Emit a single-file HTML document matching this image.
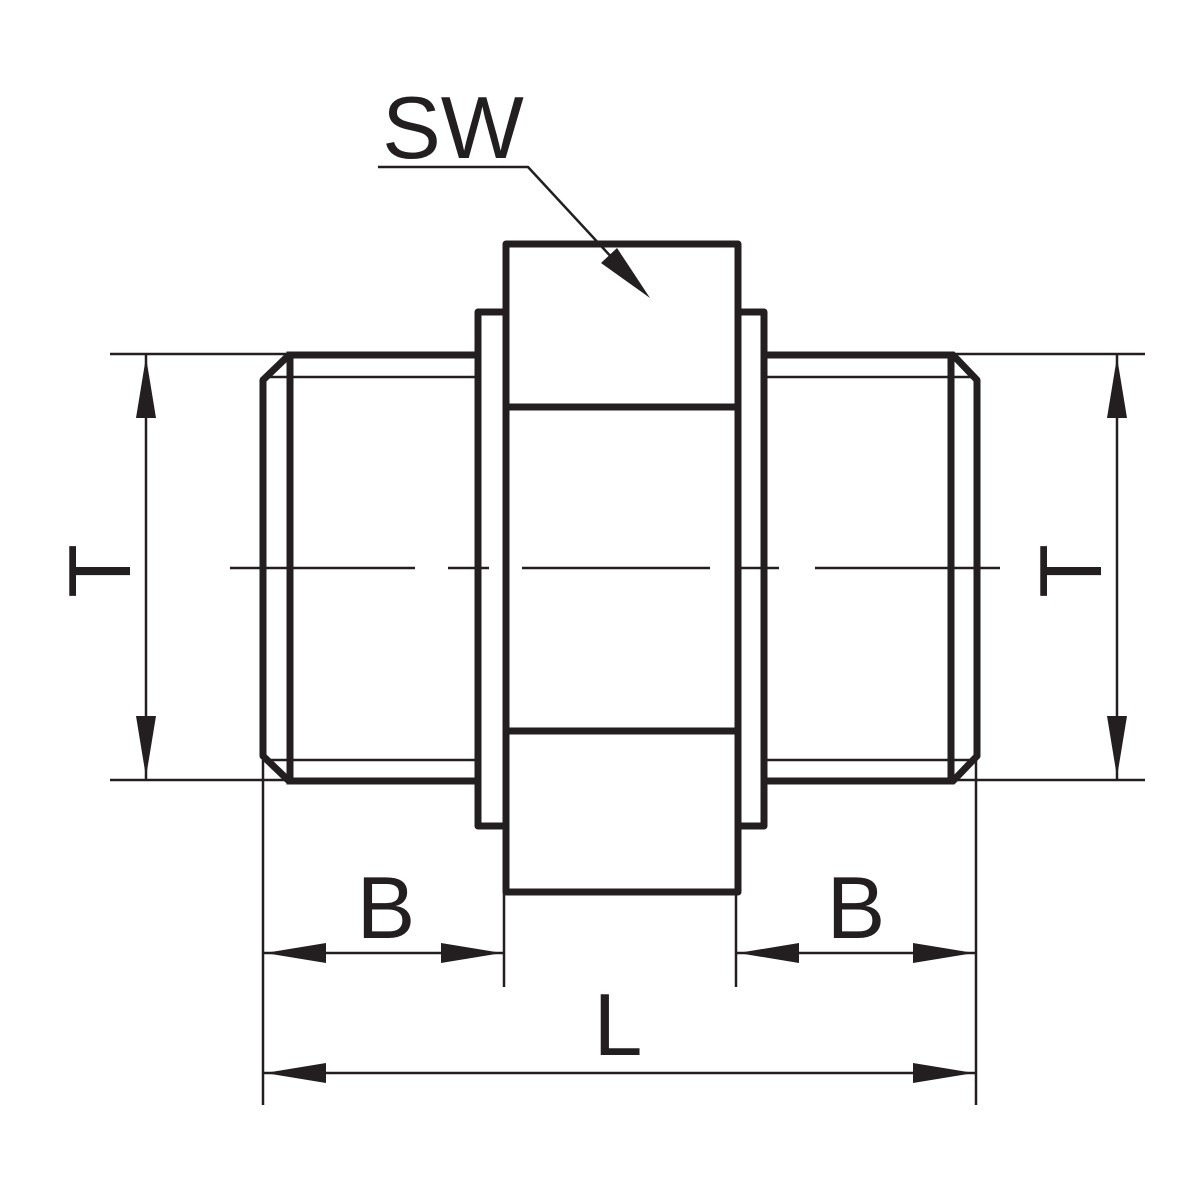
<!DOCTYPE html>
<html><head><meta charset="utf-8"><style>html,body{margin:0;padding:0;background:#fff}svg{display:block}</style></head>
<body>
<svg width="1200" height="1200" viewBox="0 0 1200 1200" xmlns="http://www.w3.org/2000/svg">
<g fill="none" stroke="#231f20" stroke-linecap="square" stroke-linejoin="round">
<!-- thick outlines -->
<g stroke-width="7">
<!-- hex body -->
<rect x="506" y="244" width="232" height="648"/>
<line x1="506" y1="407" x2="738" y2="407"/>
<line x1="506" y1="731" x2="738" y2="731"/>
<!-- left flange -->
<polyline points="503,312 478,312 478,826 503,826"/>
<!-- right flange -->
<polyline points="741,312 764,312 764,826 741,826"/>
<!-- left pipe -->
<polyline points="476,355 289,355 263,380 263,756 289,781 476,781"/>
<line x1="290" y1="355" x2="290" y2="781"/>
<!-- right pipe -->
<polyline points="767,355 953,355 977,380 977,756 953,781 767,781"/>
<line x1="951" y1="355" x2="951" y2="781"/>
</g>
<g stroke-width="2.5" stroke-linecap="butt">
<line x1="267" y1="377" x2="476" y2="377"/>
<line x1="267" y1="760" x2="476" y2="760"/>
<line x1="767" y1="377" x2="974" y2="377"/>
<line x1="767" y1="760" x2="974" y2="760"/>
<!-- centerline -->
<line x1="230" y1="568" x2="415" y2="568"/>
<line x1="448" y1="568" x2="489" y2="568"/>
<line x1="522" y1="568" x2="710" y2="568"/>
<line x1="741" y1="568" x2="779" y2="568"/>
<line x1="815" y1="568" x2="1000" y2="568"/>
<!-- T ext lines -->
<line x1="110" y1="354" x2="290" y2="354"/>
<line x1="110" y1="780" x2="290" y2="780"/>
<line x1="950" y1="354" x2="1145" y2="354"/>
<line x1="950" y1="780" x2="1145" y2="780"/>
<line x1="146" y1="354" x2="146" y2="780"/>
<line x1="1117" y1="354" x2="1117" y2="780"/>
<!-- bottom ext lines -->
<line x1="263" y1="760" x2="263" y2="1105"/>
<line x1="976" y1="760" x2="976" y2="1105"/>
<line x1="504" y1="892" x2="504" y2="987"/>
<line x1="736" y1="892" x2="736" y2="987"/>
<line x1="263" y1="953" x2="504" y2="953"/>
<line x1="736" y1="953" x2="976" y2="953"/>
<line x1="263" y1="1073" x2="976" y2="1073"/>
<!-- SW leader -->
<polyline points="378,167 528,167 640,288"/>
</g>
</g>
<g fill="#231f20">
<!-- T arrows -->
<polygon points="146,357 136,418 156,418"/>
<polygon points="146,777 136,716 156,716"/>
<polygon points="1117,357 1107,418 1127,418"/>
<polygon points="1117,777 1107,716 1127,716"/>
<!-- B arrows -->
<polygon points="265,953 326,943 326,963"/>
<polygon points="502,953 441,943 441,963"/>
<polygon points="738,953 799,943 799,963"/>
<polygon points="974,953 913,943 913,963"/>
<!-- L arrows -->
<polygon points="265,1073 326,1063 326,1083"/>
<polygon points="974,1073 913,1063 913,1083"/>
<!-- SW arrow -->
<polygon points="650,298 601,263 617,248"/>
</g>
<g fill="#231f20" font-family="Liberation Sans, Arial, sans-serif" font-size="88">
<text x="453" y="158" text-anchor="middle">SW</text>
<text x="386" y="938" text-anchor="middle">B</text>
<text x="856" y="938" text-anchor="middle">B</text>
<text x="618" y="1055" text-anchor="middle">L</text>
<text transform="translate(130,571) rotate(-90)" text-anchor="middle">T</text>
<text transform="translate(1101,571) rotate(-90)" text-anchor="middle">T</text>
</g>
</svg>
</body></html>
